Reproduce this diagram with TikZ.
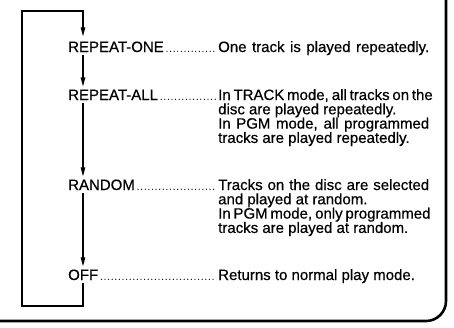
\documentclass[tikz,border=0pt]{standalone}
\usepackage{fontspec}
\setmainfont{Liberation Sans}[BoldFont={Liberation Sans},BoldFeatures={FakeBold=0.5}]
\usetikzlibrary{arrows.meta}
\newcommand{\fullline}[1]{\hbox{\makebox[211pt][s]{#1}}}
\newcommand{\plainline}[1]{\hbox{#1}}
\begin{document}
\begin{tikzpicture}[x=1pt,y=-1pt,
  lbl/.style={anchor=base west, inner sep=0pt, font=\fontsize{15}{14.3}\selectfont\bfseries},
  desc/.style={anchor=base west, inner sep=0pt, font=\fontsize{15}{14.3}\selectfont\bfseries},
  flow/.style={line width=1.1pt, -{Triangle[length=9pt,width=4.5pt]}},
  leader/.style={line width=1.3pt, dash pattern=on 0pt off 3.6pt, line cap=round},
  frame/.style={line width=2.6pt, rounded corners=20pt}]
\useasboundingbox (0,0) rectangle (454,327);

% labels
\node[lbl] (one)  at (68,52)  {REPEAT-ONE};
\node[lbl] (all)  at (68,100) {REPEAT-ALL};
\node[lbl] (rand) at (68,190) {RANDOM};
\node[lbl] (off)  at (68,280) {OFF};

% descriptions
\node[desc] (d1) at (218,52) {\vtop{\baselineskip=14.3pt
  \fullline{One track is played repeatedly.}}};
\node[desc] (d2) at (218,100) {\vtop{\baselineskip=14.3pt
  \fullline{In TRACK mode, all tracks on the}
  \plainline{disc are played repeatedly.}
  \fullline{In PGM mode, all programmed}
  \plainline{tracks are played repeatedly.}}};
\node[desc] (d3) at (218,190) {\vtop{\baselineskip=14.3pt
  \fullline{Tracks on the disc are selected}
  \plainline{and played at random.}
  \fullline{In PGM mode, only programmed}
  \plainline{tracks are played at random.}}};
\node[desc] (d4) at (218,280) {\vtop{\baselineskip=14.3pt
  \plainline{Returns to normal play mode.}}};

% leaders
\draw[leader] ([xshift=3pt,yshift=0.7pt]one.base east)  -- ([xshift=-1.5pt,yshift=0.7pt]d1.base west);
\draw[leader] ([xshift=3pt,yshift=0.7pt]all.base east)  -- ([xshift=-1.5pt,yshift=0.7pt]d2.base west);
\draw[leader] ([xshift=3pt,yshift=0.7pt]rand.base east) -- ([xshift=-1.5pt,yshift=0.7pt]d3.base west);
\draw[leader] ([xshift=3pt,yshift=0.7pt]off.base east)  -- ([xshift=-1.5pt,yshift=0.7pt]d4.base west);

% flow column
\coordinate (tl) at (22,11);
\coordinate (tr) at (83,11);
\coordinate (bl) at (22,306);
\coordinate (br) at (83,306);

\draw[flow, shorten >=5pt] ([yshift=-3pt]off.south -| br) -- (br) -- (bl) -- (tl) -- (tr) -- (one.north -| tr);
\draw[flow, shorten <=3pt, shorten >=3pt] (one.south -| tr) -- (all.north -| tr);
\draw[flow, shorten <=3pt, shorten >=3pt] (all.south -| tr) -- (rand.north -| tr);
\draw[flow, shorten <=3pt, shorten >=3pt] (rand.south -| tr) -- (off.north -| tr);

% frame
\draw[frame] (446,-3) -- (446,321) -- (-3,321);
\end{tikzpicture}
\end{document}
